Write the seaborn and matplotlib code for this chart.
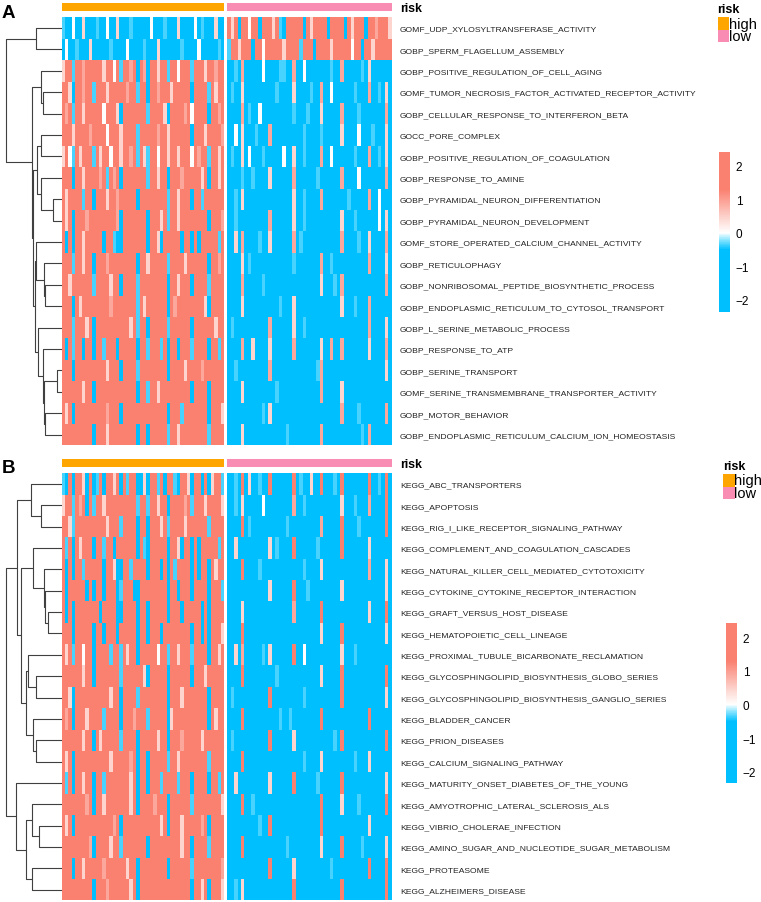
import numpy as np
import pandas as pd
import matplotlib
matplotlib.use("Agg")
import matplotlib.pyplot as plt
import seaborn as sns
from matplotlib.colors import LinearSegmentedColormap, ListedColormap, Normalize
from matplotlib.patches import Rectangle
from matplotlib.cm import ScalarMappable

# ---- data -----------------------------------------------------------------
go_terms = [
    "GOMF_UDP_XYLOSYLTRANSFERASE_ACTIVITY",
    "GOBP_SPERM_FLAGELLUM_ASSEMBLY",
    "GOBP_POSITIVE_REGULATION_OF_CELL_AGING",
    "GOMF_TUMOR_NECROSIS_FACTOR_ACTIVATED_RECEPTOR_ACTIVITY",
    "GOBP_CELLULAR_RESPONSE_TO_INTERFERON_BETA",
    "GOCC_PORE_COMPLEX",
    "GOBP_POSITIVE_REGULATION_OF_COAGULATION",
    "GOBP_RESPONSE_TO_AMINE",
    "GOBP_PYRAMIDAL_NEURON_DIFFERENTIATION",
    "GOBP_PYRAMIDAL_NEURON_DEVELOPMENT",
    "GOMF_STORE_OPERATED_CALCIUM_CHANNEL_ACTIVITY",
    "GOBP_RETICULOPHAGY",
    "GOBP_NONRIBOSOMAL_PEPTIDE_BIOSYNTHETIC_PROCESS",
    "GOBP_ENDOPLASMIC_RETICULUM_TO_CYTOSOL_TRANSPORT",
    "GOBP_L_SERINE_METABOLIC_PROCESS",
    "GOBP_RESPONSE_TO_ATP",
    "GOBP_SERINE_TRANSPORT",
    "GOMF_SERINE_TRANSMEMBRANE_TRANSPORTER_ACTIVITY",
    "GOBP_MOTOR_BEHAVIOR",
    "GOBP_ENDOPLASMIC_RETICULUM_CALCIUM_ION_HOMEOSTASIS",
]

kegg_terms = [
    "KEGG_ABC_TRANSPORTERS",
    "KEGG_APOPTOSIS",
    "KEGG_RIG_I_LIKE_RECEPTOR_SIGNALING_PATHWAY",
    "KEGG_COMPLEMENT_AND_COAGULATION_CASCADES",
    "KEGG_NATURAL_KILLER_CELL_MEDIATED_CYTOTOXICITY",
    "KEGG_CYTOKINE_CYTOKINE_RECEPTOR_INTERACTION",
    "KEGG_GRAFT_VERSUS_HOST_DISEASE",
    "KEGG_HEMATOPOIETIC_CELL_LINEAGE",
    "KEGG_PROXIMAL_TUBULE_BICARBONATE_RECLAMATION",
    "KEGG_GLYCOSPHINGOLIPID_BIOSYNTHESIS_GLOBO_SERIES",
    "KEGG_GLYCOSPHINGOLIPID_BIOSYNTHESIS_GANGLIO_SERIES",
    "KEGG_BLADDER_CANCER",
    "KEGG_PRION_DISEASES",
    "KEGG_CALCIUM_SIGNALING_PATHWAY",
    "KEGG_MATURITY_ONSET_DIABETES_OF_THE_YOUNG",
    "KEGG_AMYOTROPHIC_LATERAL_SCLEROSIS_ALS",
    "KEGG_VIBRIO_CHOLERAE_INFECTION",
    "KEGG_AMINO_SUGAR_AND_NUCLEOTIDE_SUGAR_METABOLISM",
    "KEGG_PROTEASOME",
    "KEGG_ALZHEIMERS_DISEASE",
]

# z-score levels, one char per sample
levels = {"B": -2.2, "b": -1.1, "c": -0.35, "w": 0.0, "p": 0.45, "r": 0.9, "R": 2.0}

go_high = [
    "cBBwBBpB BBcBBwBB pBBBcBBB BBwBBBcB BBpBBBBw BcBBBpBB",
    "BwBBcBBB pBBBBBcB BBBwBBBB cBBBpBBB BBBcBBBB wBBBBBcB",
    "pRRcRRrR RRRRpRRw RcRRrRBR rBRRpRRc RRwRRRcR RRpRRrRR",
    "RRpBRRrR RcRRRpRR RRRrRRcR RBRRrRRR pRRRRRBR RRRcRpRR",
    "RrRcRRpR RRRRwRRR pBRRRRRR RcRRRRpB RRRRrRwR RRRBRRrR",
    "RRRpRRRR rRRRRwRR RpRRRRcR RRRRrRRp RRRRRRBR RRpRRRRr",
    "pRwcRpRR RcRpRRwR RpRRrRcR pcRRwRRp RRpRRRwR rRRcRRpR",
    "RRRBRRpR RRRrRcRr RBRRRRRR RcRRpRRB RRRrRRRR RpRBRRpR",
    "RpRRRRcR RBRRRpRR rRRRRRBR RRRRRRRc RRpRRRBR RcRRRRRR",
    "RpRBRRRr RRRRRRRR rBRRRRRR RBRRRpRc RRpRRRRR RRRBRRRr",
    "RBRBRRpR RRRRBRRc BBRRRRRR RBRRpBRR RRRBRRBR BRRRRRcR",
    "RRRcRRpR RBRRRrRR RRRRRRBR RpRRRRRc RRRRpRRR RRRBRRrR",
    "RRpRRRRR RcRRRRpR RBRRRRcR RRRRRRRB RRpRRRBR RRRcRRRR",
    "RRRBRpRR RRRRRRrR RRRRRRcR pRRRRRRB RrRRRRRR RRpBRRRR",
    "RRRcRRRp RBRRRRRR RRRRpRcR RBRRRRRc RRRRRRBR RRRRRpRR",
    "RBRcRRBR RBRRcRRR BRRRRRBR RcRRRcRB RRBRRRcR RRRBRRcR",
    "RRRBRRRR RRRRRpRR RBRRRRcR RRRRRRRB RRRRpRRR RrRRRRRR",
    "RRRRRRpR RBRRRRRR RRRRRRBR RcRRpRRR RRRRRRBR RRRBRRRR",
    "RpRBRRRR RRRRRrRR RBRRRRRR RRRRRRRB RRRcRRRR RRRBRRRp",
    "RRRRRRRR RBRRRpRR RRRRRRBR RBRRRRRc RRpRRRRR RRRcRRRR",
]

go_low = [
    "RpRBRRwR RBRRRpRc BRRRRRBR pRRRRBRR RRBRpRRR BRRrRRRp",
    "cRRpRRRB RRwRRRRR pRRRRcRR RBRRRRpR RRRRwRRB RRpRRRRR",
    "BBcBrBBB BBwBBBBc cBBrBBwB BBBBBBcB BrBBBBBc BpBBBBBB",
    "BcBBpBBB BBBBBBcB BBBpBBBB cBBrBBwB BBBBBcBB BrBBcBpB",
    "BBBBrBcB BwBBBBBB BBBcBBBc BBBpBBBB BrBBBBcB BBBBBBrB",
    "BBwBpBBB cBBBrBBB BBBBBBcB BBBcBBBB BpBBBBwB BBcBBBpB",
    "BcBBpBwB BBcBBBBB wBBpBBcB BBBrBBwB BBBBBcBB BrBBcBpB",
    "BBBBcBBc BBBBpBBB BBBrBBBB BBcBBBBB BrBBBBwB BBBBBBrB",
    "BBcBpBBB BBBBBBBB BBBpBBcB BBBrBBBB BBBcBBBB BrBBwBBB",
    "BBcBBBBB BBBBrBBB BBBpBBcB BBBBBBBB BpBBBcBB BBBBwBpB",
    "BBpBrBBB BcBBpBBB BBBrBcBB BBBBBBBB BrBBBBcB BpBBBBrB",
    "BBBBpBcB BBBBBBBB BBBcBBBB BBBrBBcB BBBBBBBB BrBBBBpB",
    "BBBBrBBB BBcBBBBB BBBBBBBB BBBpBBBc BrBBBBBB BBBBBBrB",
    "BBBBpBBB BBBBBBBc BBBpBBBB BBBBBBBB BpBBBcBB BrBBBBBB",
    "BcBBBBBB BBBBrBBB BBBpBBcB BBBBBBBB BBBBBBBB BrBBBBpB",
    "BBBBrBBp BBBBpBBB BBBrBBBB BBBpBBrB BrBBBBBB BpBBBBrB",
    "BBcBBBBB BBBBrBBB BBBBBBBB BBcrBBBB BBBBBBBB BBBBBBpB",
    "BBBBpBBB BBBBBBcB BBBBBBBB BBBrBBBB BpBBBBBB BBBBBBBB",
    "BBBBBBBB BBcBpBBB BBBBBBBB BBBBBBBB BrBBBBcB BBBBBBrB",
    "BBBBpBBB BBBBBBBB BcBBBBBB BBBrBBBB BBBBBBBc BrBBBBBB",
]

kegg_high = [
    "cBRBRRpB RBcRBRRp RBRcRRBB pBRRcRBR RcBRRpBR RBRBpRRc",
    "pRRcRrRB RcRRpRRR RRRRRRcR RcRRpRRB RRRRrRcR RRpRRRRp",
    "RRpcRRRR RRRRRpRR RcRRRRBR RBRRRpRc RRRRpRRR RRRcRRRR",
    "RcRBRpRR RBRRcRRB RRRRRRBR cBRRRRRB RRpBRRBR BRRRRRcR",
    "RBRBRRcR RRRRBRRp BBRRcRRR RBRRRBRB RcRRRRBR BRRBRpRR",
    "RBRRRRRB RBRRBRRR BcRRRBBR RRRRRRRB RRBRRRBR RRRBRRRc",
    "RBRBRRRR RRRBRRRR BBRRRRBR RBRRRRRB RRRBRRRR RBRBRRRR",
    "RRRBRRRR RBRRBRRR BRRRRRBR RBRRRBRR RRRRRRBR RBRBRRRp",
    "RpRcRRwR RBRRRRcR RcRpRRBR RRRRwRRc RRpRRRcR RRRBRRpR",
    "RRRRRRpR RBRRRRRR RcRRRRRR pBRRRRRB RRRRRRBR RRpRRRRR",
    "RRpBRRRR RRRRRRpR RBRRRRcR RRRRRRRB RRRpRRRR RRRBRRRR",
    "RrRBRRRp RRRRcRRR RBRRRrRR RcRRRRRB pRRRRRRR RRRBRpRR",
    "RRRRRRpR RBRpRRRR RcRRRRBR RRRRpRRB RRRrRRRR RpRRRRRR",
    "RpRBRRRR RRRRRRpR RRRRrRBR RBRRRRRc RRpRRRRR RRRcRRRR",
    "RcRBRRpR RBRRcRRR RRRRpRBR RBRRRcRR RRcRRRBR RRRBRRcR",
    "RRRRRRRr RBRRpRRR RRRRpRBR RRRrRRRB RRRRRRcR RRRRRRRp",
    "RpRBRRRR RRRRRRRr RBRRRRRR RRRRRpRB RRRpRRRR RrRBRRRR",
    "RRRRRRRR rBRRRRpR RcRRRRRR RBRRRRRR RRRpRRBR RRRcRRRR",
    "RRRBRRpR RRRRrRRR RRRpRRBR RRRRRRRB RRRRRRcR RRRRRRRr",
    "RRRRRRRR RBRRRrRR RRRRpRBR RRRRRRRR RRRRRRBR RpRBRRRp",
]

kegg_low = [
    "BBcBRBpB BcBBRBBB BBBRBcBB pBBRBBBc BRBBBBBB BRBBcBRB",
    "BBcBpBBB BBwBBBBB BBBrBBcB BBBBBBBB BpBBBcBB BrBBBBRB",
    "BBBBRBcB BBBBBBBB BcBBBBBB BBBrBBBB BRBBBBcB BBBBBBRB",
    "BBpBBBBB BBBBpBcB BBBRBBBB BBcBBBBB BRBBBBBB BpBBBBBB",
    "BBBBRBBB BcBBBBBB BBBBBBcB BBBpBBBB BBBBBBBB BrBBBBpB",
    "BBBBBBBB BBBBpBBB BBBRBBBc BBBBBBBB BpBBBBBB BBBBBBpB",
    "BBBBpBBB BBBBBBBB BBBrBBBB BBBRBBBB BBBBBBBB BpBBBBRB",
    "BBBBRBBB BBBBBBBB BBBBBBBB BBBpBBBB BRBBBBBB BBBBBBpB",
    "BBpBrBBB BBcBpBBB BBBRBBwB BBBBBBBB BpBBBcBB BBBBBBBB",
    "BBBBRBBB BBBBBBcB BBBBBBBB BBBpBBBB BRBBBBBB BBBBBBRB",
    "BcBBBBBB BBBBRBBB BBBBBBcB BBBBBBBB BRBBBBBB BBBBBBpB",
    "BBBBRBBB BBBBBBBc BBcBBBBB BBBRBBBB BBBBBBBB BRBBBBBB",
    "BcBBBBBB BBBBRBBB BBBpBBBB BBBBBBBc BRBBBBBB BBBBBBRB",
    "BBBBRBBB BBBBBBBB BBBBBBcB BBBpBBBB BBBBBcBB BpBBBBBB",
    "BBpBBBBB BBBBpBBB BBBRBBBB BBcBBBBB BRBBBBBB BBBBBBpB",
    "BBBBRBBc BBBBBBBB BBBBBBBB BBBRBBBB BpBBBBcB BBBBBBRB",
    "BBBBBBBB BcBBRBBB BBBBBBBB BBBRBBBB BBBBBBBB BpBBBBBB",
    "BBBBRBBB BBBBBBBB BcBBBBBB BBBpBBBB BRBBBBBc BBBBBBpB",
    "BBBBBBBB BBBBRBBB BBBpBBBB BBBBBBcB BBBBBBBB BRBBBBRB",
    "BBcBpBBB BBBBBBBB BBBRBBBB BBBBBBBB BRBBBBBB BBBBBBRB",
]

# row trees: (left, right, merge height); ints are row positions
go_tree = ((0, 1, 25.7),
           ((2, (3, 4, 18.4), 21.0),
            (((5, 6, 21.0), (7, (8, 9, 8.7), 21.0), 25.0),
             ((10, (11, (12, 13, 16.7), 17.4), 25.7),
              (14, (15, ((16, 17, 4.5), (18, 19, 16.7), 17.4), 19.0), 24.0), 26.7),
             28.4),
            30.0),
           56.0)

kegg_tree = (((0, (1, 2, 20.7), 31.0),
              ((3, (4, (5, (6, 7, 13.4), 16.4), 17.4), 28.4),
               ((8, (9, 10, 25.7), 34.2), (11, (12, 13, 25.7), 28.4), 35.7),
               40.7),
              45.0),
             (14, ((15, (16, 17, 22.7), 29.4), (18, 19, 29.4), 35.7), 46.0),
             55.7)

risk_groups = ["high", "low"]
risk_colors = {"high": "#FFA500", "low": "#F98CB2"}

# ---- style ----------------------------------------------------------------
plt.rcParams["font.family"] = ["Liberation Sans", "DejaVu Sans"]

W, H = 761, 903
VMIN, VMAX = -2.35, 2.42
heat_cmap = LinearSegmentedColormap.from_list(
    "risk_heat",
    [((v - VMIN) / (VMAX - VMIN), c) for v, c in [
        (VMIN, "#00BFFF"), (-0.5, "#00BFFF"), (-0.2, "#8EE6FF"),
        (0.0, "#FFFFFF"), (0.3, "#FDE3DF"), (1.3, "#FA8070"), (VMAX, "#FA8070")]])

fig = plt.figure(figsize=(W / 100, H / 100), dpi=100)


def box(x0, y0, x1, y1):
    # axes from pixel box measured from the top-left corner
    return fig.add_axes([x0 / W, 1 - y1 / H, (x1 - x0) / W, (y1 - y0) / H])


def to_matrix(rows):
    return np.array([[levels[ch] for ch in r.replace(" ", "")] for r in rows])


def draw_tree(ax, node):
    if isinstance(node, int):
        return node + 0.5, 0.0
    left, right, h = node
    y1, h1 = draw_tree(ax, left)
    y2, h2 = draw_tree(ax, right)
    ax.plot([h1, h, h, h2], [y1, y1, y2, y2], color="#404040", lw=0.8,
            solid_capstyle="butt")
    return (y1 + y2) / 2, h


def panel(letter, terms, high_rows, low_rows, tree, top, bottom, bar_top, bar_bot,
          cb_box, leg_x, leg_y):
    high = pd.DataFrame(to_matrix(high_rows), index=terms)
    low = pd.DataFrame(to_matrix(low_rows), index=terms)
    xs = [(61.7, 224.3), (227.3, 391.7)]

    for (x0, x1), grp, df in zip(xs, risk_groups, [high, low]):
        ax = box(x0, top, x1, bottom)
        sns.heatmap(df, ax=ax, cmap=heat_cmap, vmin=VMIN, vmax=VMAX, cbar=False,
                    xticklabels=False, yticklabels=(grp == "low"))
        ax.set_ylabel("")
        if grp == "low":
            ax.yaxis.tick_right()
            ax.tick_params(axis="y", length=0, pad=6, labelsize=6.1, labelrotation=0)
            for t in ax.get_yticklabels():
                t.set_color("#222222")
        else:
            ax.tick_params(left=False)

        bar = box(x0, bar_top, x1, bar_bot)
        codes = pd.DataFrame([[0] * df.shape[1]], index=["risk"])
        sns.heatmap(codes, ax=bar, cmap=ListedColormap([risk_colors[grp]]),
                    cbar=False, xticklabels=False, yticklabels=(grp == "low"))
        if grp == "low":
            bar.yaxis.tick_right()
            bar.tick_params(axis="y", length=0, pad=6, labelsize=8.8, labelrotation=0)
            for t in bar.get_yticklabels():
                t.set_fontweight("bold")
        else:
            bar.tick_params(left=False)

    dax = box(0, top, 61.7, bottom)
    draw_tree(dax, tree)
    dax.set_xlim(61.7, 0)
    dax.set_ylim(len(terms), 0)
    dax.axis("off")

    fig.text(2 / W, 1 - (bar_top + 1) / H, letter, fontsize=13.5, fontweight="bold",
             va="top", ha="left")

    cax = box(*cb_box)
    sm = ScalarMappable(norm=Normalize(VMIN, VMAX), cmap=heat_cmap)
    cb = fig.colorbar(sm, cax=cax, ticks=[-2, -1, 0, 1, 2])
    cb.outline.set_visible(False)
    cax.tick_params(length=0, labelsize=8.5, pad=4)

    fig.text(leg_x / W, 1 - leg_y / H, "risk", fontsize=9, fontweight="bold",
             va="center", ha="left")
    for k, grp in enumerate(risk_groups):
        y0 = leg_y + 8 + 12.7 * k
        fig.add_artist(Rectangle((leg_x / W, 1 - (y0 + 12.7) / H), 11.5 / W, 12.7 / H,
                                 transform=fig.transFigure, color=risk_colors[grp], lw=0))
        fig.text((leg_x + 11) / W, 1 - (y0 + 6.5) / H, grp, fontsize=10.5,
                 va="center", ha="left")


panel("A", go_terms, go_high, go_low, go_tree, 18.3, 446.4, 3.5, 11.5,
      (719, 152.7, 730, 312.7), 717.5, 10)
panel("B", kegg_terms, kegg_high, kegg_low, kegg_tree, 474.3, 901.4, 459.5, 467.5,
      (726, 624.3, 737, 784.3), 723, 467)

fig.savefig("out.png", dpi=100)
